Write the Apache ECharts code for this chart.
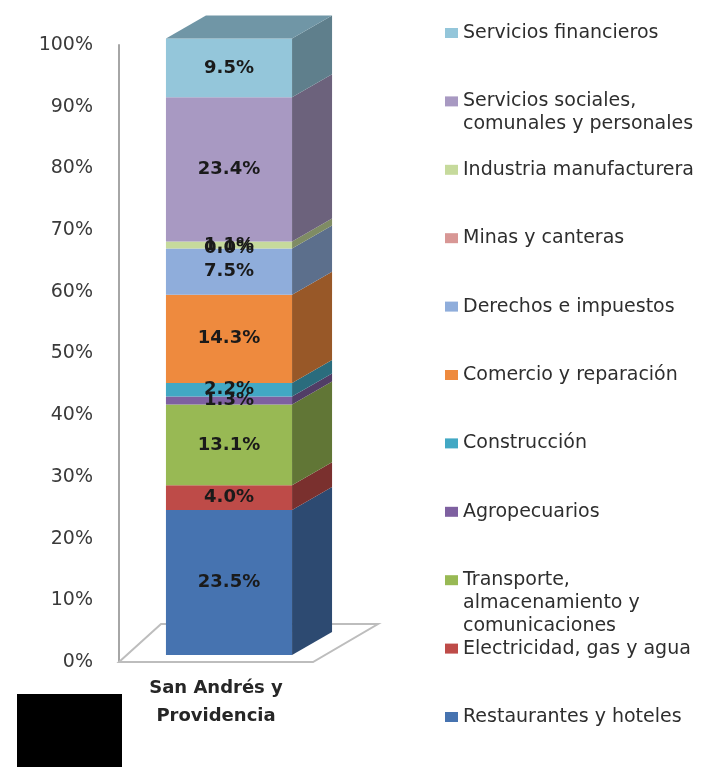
<!DOCTYPE html>
<html>
<head>
<meta charset="utf-8">
<script src="https://cdn.jsdelivr.net/npm/echarts@6/dist/echarts.min.js"></script>
<style>
  html, body { margin: 0; background: #fff; }
  #chart { width: 708px; height: 767px; }
</style>
</head>
<body>
<div id="chart"></div>
<script>
  // data, stacking order bottom -> top
  const categories = ['San Andrés y\nProvidencia'];
  const sectors = [
    'Restaurantes y hoteles',
    'Electricidad, gas y agua',
    'Transporte,\nalmacenamiento y\ncomunicaciones',
    'Agropecuarios',
    'Construcción',
    'Comercio y reparación',
    'Derechos e impuestos',
    'Minas y canteras',
    'Industria manufacturera',
    'Servicios sociales,\ncomunales y personales',
    'Servicios financieros'
  ];
  const shares = [23.5, 4.0, 13.1, 1.3, 2.2, 14.3, 7.5, 0.0, 1.1, 23.4, 9.5];
  const yMin = 0;
  const yMax = 100;
  const yStep = 10;

  const colors = ['#4673B0', '#BE4B48', '#98B954', '#7E60A0', '#42A8C4', '#EE8A3E',
    '#8FADDB', '#D89795', '#C6DA9C', '#A899C2', '#94C6DA'];

  const FONT = '"DejaVu Sans", Verdana, sans-serif';
  const DX = 40, DY = -23;        // bar depth
  const SHIFT_X = 13, LIFT = -7;  // bar front face vs. wall/floor
  const BAR_RATIO = 0.65;

  // darker tone for side / top faces
  function shade(c, k) {
    const p = echarts.color.parse(c);
    return 'rgb(' + Math.round(p[0] * k) + ',' + Math.round(p[1] * k) + ',' + Math.round(p[2] * k) + ')';
  }

  const chart = echarts.init(document.getElementById('chart'));

  function barItem(i) {
    return function (params, api) {
      const base = api.value(2);
      const p0 = api.coord([api.value(0), base]);
      const p1 = api.coord([api.value(0), base + api.value(1)]);
      const w = api.size([1, 0])[0] * BAR_RATIO;
      const x0 = p0[0] - w / 2 + SHIFT_X, x1 = x0 + w;
      const yb = p0[1] + LIFT, yt = p1[1] + LIFT;
      const c = colors[i];
      const children = [
        { type: 'rect', shape: { x: x0, y: yt, width: w, height: yb - yt }, style: { fill: c } },
        { type: 'polygon', shape: { points: [[x1, yb], [x1 + DX, yb + DY], [x1 + DX, yt + DY], [x1, yt]] },
          style: { fill: shade(c, 0.64) } }
      ];
      if (i === shares.length - 1) {
        children.push({ type: 'polygon', shape: { points: [[x0, yt], [x1, yt], [x1 + DX, yt + DY], [x0 + DX, yt + DY]] },
          style: { fill: shade(c, 0.76) } });
      }
      children.push({
        type: 'text', z2: 100,
        style: {
          text: api.value(1).toFixed(1) + '%',
          x: (x0 + x1) / 2, y: (yt + yb) / 2,
          align: 'center', verticalAlign: 'middle',
          font: 'bold 18px ' + FONT, fill: '#1a1a1a'
        }
      });
      return { type: 'group', children: children };
    };
  }

  let running = 0;
  const series = sectors.map(function (name, i) {
    const base = running;
    running += shares[i];
    return {
      name: name,
      type: 'custom',
      z: 3,
      itemStyle: { color: colors[i] },
      renderItem: barItem(i),
      data: [[0, shares[i], base]]
    };
  });

  // floor of the 3D plot
  series.unshift({
    type: 'custom',
    z: 1,
    silent: true,
    renderItem: function (params, api) {
      const cs = params.coordSys;
      const yb = api.coord([0, yMin])[1];
      return {
        type: 'polygon',
        shape: { points: [[cs.x, yb], [cs.x + cs.width, yb], [cs.x + cs.width + 65, yb - 38], [cs.x + 42, yb - 38]] },
        style: { fill: '#fff', stroke: '#bdbdbd', lineWidth: 2 }
      };
    },
    data: [[0, 0]]
  });

  // one legend per slot so the multi-line entries keep even spacing;
  // blank lines on top keep the marker beside the first text line
  const LH = 23;
  const legends = sectors.map(function (name, i) {
    const slot = sectors.length - 1 - i;
    const n = name.split('\n').length;
    const yc = 33 + slot * 68.4;
    return {
      data: [name],
      left: 445,
      top: yc - (2 * n - 1) * LH / 2,
      padding: 0,
      icon: 'rect',
      itemWidth: 13,
      itemHeight: 10,
      selectedMode: false,
      formatter: function (nm) { return '\n'.repeat(n - 1) + nm; },
      textStyle: { fontFamily: FONT, fontSize: 19, color: '#2e2e2e', lineHeight: LH }
    };
  });

  chart.setOption({
    animation: false,
    grid: { left: 119, right: 708 - 313, top: 45, bottom: 105 },
    legend: legends,
    xAxis: {
      type: 'category',
      data: categories,
      axisLine: { show: false },
      axisTick: { show: false },
      axisLabel: { margin: 12, fontFamily: FONT, fontWeight: 'bold', fontSize: 18, lineHeight: 28, color: '#262626' }
    },
    yAxis: {
      type: 'value',
      min: yMin,
      max: yMax,
      interval: yStep,
      axisLine: { show: true, lineStyle: { color: '#a6a6a6', width: 2 } },
      axisTick: { show: false },
      splitLine: { show: false },
      axisLabel: { margin: 26, formatter: '{value}%', fontFamily: FONT, fontSize: 19, color: '#3a3a3a' }
    },
    graphic: [
      { type: 'rect', left: 17, top: 694, shape: { width: 105, height: 73 }, style: { fill: '#000' } }
    ],
    series: series
  });
</script>
</body>
</html>
